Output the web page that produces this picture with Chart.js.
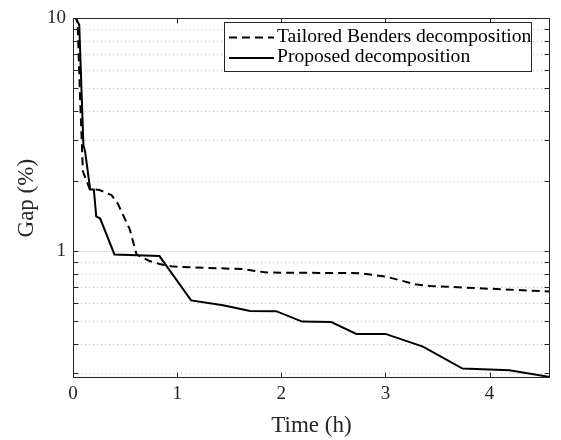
<!DOCTYPE html>
<html>
<head>
<meta charset="utf-8">
<script src="https://cdn.jsdelivr.net/npm/chart.js@4.4.1/dist/chart.umd.min.js"></script>
<style>
  html, body { margin: 0; padding: 0; background: #fff; }
</style>
</head>
<body>
<canvas id="gapChart" width="561" height="440"></canvas>
<script>
// ---------------- DATA ----------------
const seriesNames = ["Tailored Benders decomposition", "Proposed decomposition"];

const timeBenders = [0.03, 0.045, 0.07, 0.085, 0.095, 0.16, 0.255, 0.37, 0.43, 0.545, 0.61, 0.735, 0.83, 0.96, 1.63, 1.86, 2.75, 3.01, 3.30, 3.43, 4.58];
const gapBenders  = [10.4, 9.3, 4.3, 2.9, 2.2, 1.85, 1.83, 1.74, 1.60, 1.24, 0.968, 0.907, 0.881, 0.858, 0.837, 0.809, 0.804, 0.776, 0.718, 0.709, 0.67];

const timeProposed = [0.01, 0.06, 0.10, 0.115, 0.165, 0.20, 0.223, 0.261, 0.398, 0.83, 1.134, 1.44, 1.70, 1.95, 2.20, 2.48, 2.72, 3.00, 3.36, 3.74, 4.19, 4.58];
const gapProposed  = [10.3, 9.4, 2.85, 2.7, 1.84, 1.84, 1.41, 1.38, 0.968, 0.952, 0.614, 0.585, 0.553, 0.552, 0.498, 0.496, 0.441, 0.441, 0.389, 0.313, 0.308, 0.288];

const xTicks = [0, 1, 2, 3, 4];
const yTicks = [0.3, 0.4, 0.5, 0.6, 0.7, 0.8, 0.9, 1, 2, 3, 4, 5, 6, 7, 8, 9, 10];
const yLabels = [1, 10];

const SERIF = "'Liberation Serif', 'Times New Roman', serif";
const INK = "#262626";

function toPoints(xs, ys) {
  return xs.map((x, i) => ({ x, y: ys[i] }));
}

// ---------------- PLUGINS ----------------
// dotted minor grid + light solid major grid, under the lines
const gridPlugin = {
  id: "matGrid",
  beforeDatasetsDraw(chart) {
    const { ctx, chartArea: a } = chart;
    const y = chart.scales.y;
    ctx.save();
    ctx.lineWidth = 1;
    y.ticks.forEach((t) => {
      const py = Math.round(y.getPixelForValue(t.value)) + 0.5;
      if (py <= a.top + 1 || py >= a.bottom - 1) return;
      if (yLabels.includes(t.value)) {
        ctx.setLineDash([]);
        ctx.strokeStyle = "#e3e3e3";
      } else {
        ctx.setLineDash([1, 3]);
        ctx.strokeStyle = "#c4c4c4";
      }
      ctx.beginPath();
      ctx.moveTo(a.left, py);
      ctx.lineTo(a.right, py);
      ctx.stroke();
    });
    ctx.restore();
  },
};

// box + inward ticks + legend box
const framePlugin = {
  id: "matFrame",
  afterDraw(chart) {
    const { ctx, chartArea: a } = chart;
    const x = chart.scales.x, y = chart.scales.y;
    const L = Math.round(a.left) + 0.5, R = Math.round(a.right) - 0.5;
    const T = Math.round(a.top) + 0.5, B = Math.round(a.bottom) - 0.5;
    ctx.save();
    ctx.setLineDash([]);
    ctx.strokeStyle = INK;
    ctx.lineWidth = 1;
    ctx.strokeRect(L, T, R - L, B - T);

    ctx.beginPath();
    x.ticks.forEach((t) => {
      const px = Math.round(x.getPixelForValue(t.value)) + 0.5;
      ctx.moveTo(px, B); ctx.lineTo(px, B - 5);
      ctx.moveTo(px, T); ctx.lineTo(px, T + 5);
    });
    y.ticks.forEach((t) => {
      const py = Math.round(y.getPixelForValue(t.value)) + 0.5;
      ctx.moveTo(L, py); ctx.lineTo(L + 5, py);
      ctx.moveTo(R, py); ctx.lineTo(R - 5, py);
    });
    ctx.stroke();

    // legend
    const bx = 224.5, by = 22.5, bw = 307, bh = 49;
    ctx.fillStyle = "#fff";
    ctx.fillRect(bx, by, bw, bh);
    ctx.strokeStyle = INK;
    ctx.lineWidth = 1;
    ctx.strokeRect(bx, by, bw, bh);
    ctx.font = "19.6px " + SERIF;
    ctx.textBaseline = "middle";
    ctx.fillStyle = "#000";
    chart.data.datasets.forEach((ds, i) => {
      const ly = 37.5 + i * 20.5;
      ctx.strokeStyle = ds.borderColor;
      ctx.lineWidth = ds.borderWidth;
      ctx.setLineDash(ds.borderDash || []);
      ctx.beginPath();
      ctx.moveTo(229, ly);
      ctx.lineTo(274, ly);
      ctx.stroke();
      ctx.fillText(ds.label, 277, ly - 1);
    });
    ctx.restore();
  },
};

// ---------------- CHART ----------------
const ctx = document.getElementById("gapChart").getContext("2d");
new Chart(ctx, {
  type: "line",
  data: {
    datasets: [
      {
        label: seriesNames[0],
        data: toPoints(timeBenders, gapBenders),
        borderColor: "#000",
        borderWidth: 2,
        borderDash: [8, 5],
        pointRadius: 0,
        tension: 0,
        fill: false,
      },
      {
        label: seriesNames[1],
        data: toPoints(timeProposed, gapProposed),
        borderColor: "#000",
        borderWidth: 2,
        pointRadius: 0,
        tension: 0,
        fill: false,
      },
    ],
  },
  options: {
    responsive: false,
    animation: false,
    devicePixelRatio: 1,
    layout: { padding: { left: 0, right: 11, top: 12, bottom: 0 } },
    plugins: { legend: { display: false }, tooltip: { enabled: false } },
    scales: {
      x: {
        type: "linear",
        min: 0,
        max: 4.58,
        afterBuildTicks: (s) => { s.ticks = xTicks.map((v) => ({ value: v })); },
        afterFit: (s) => { s.height = 62; },
        grid: { display: false, drawTicks: false },
        border: { display: false },
        ticks: { autoSkip: false, maxRotation: 0, padding: 5, color: INK, font: { family: SERIF, size: 19 } },
        title: { display: true, text: "Time (h)", color: INK, font: { family: SERIF, size: 23 }, padding: { top: 3, bottom: 0 } },
      },
      y: {
        type: "logarithmic",
        min: 0.285,
        max: 10,
        afterBuildTicks: (s) => { s.ticks = yTicks.map((v) => ({ value: v })); },
        afterFit: (s) => { s.width = 73; },
        grid: { display: false, drawTicks: false },
        border: { display: false },
        ticks: {
          autoSkip: false,
          padding: 7,
          color: INK,
          font: { family: SERIF, size: 19 },
          callback: (v) => (yLabels.includes(v) ? String(v) : ""),
        },
        title: { display: true, text: "Gap (%)", color: INK, font: { family: SERIF, size: 23 }, padding: { top: 13, bottom: 0 } },
      },
    },
  },
  plugins: [gridPlugin, framePlugin],
});
</script>
</body>
</html>
